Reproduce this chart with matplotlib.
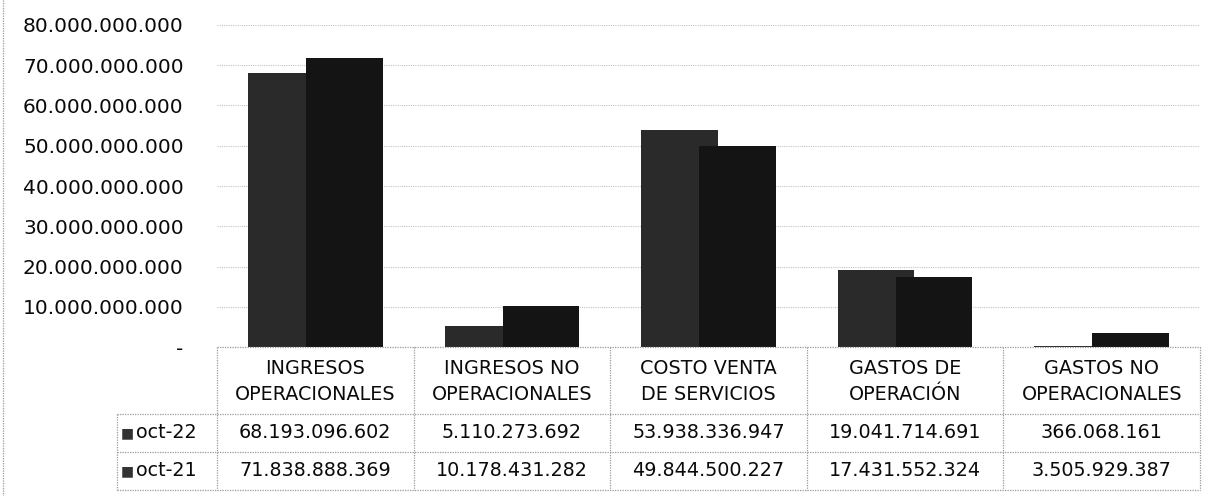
import numpy as np
import matplotlib
matplotlib.use("Agg")
import matplotlib.pyplot as plt
from matplotlib.ticker import FuncFormatter

# data
categories = ["INGRESOS\nOPERACIONALES", "INGRESOS NO\nOPERACIONALES",
              "COSTO VENTA\nDE SERVICIOS", "GASTOS DE\nOPERACIÓN",
              "GASTOS NO\nOPERACIONALES"]
series_names = ["oct-22", "oct-21"]
oct22 = [68193096602, 5110273692, 53938336947, 19041714691, 366068161]
oct21 = [71838888369, 10178431282, 49844500227, 17431552324, 3505929387]
yticks = [0, 10e9, 20e9, 30e9, 40e9, 50e9, 60e9, 70e9, 80e9]

W, H = 1221, 496
plt.rcParams['font.family'] = ['DejaVu Sans']


def fx(x):
    return x / W


def fy(y):
    return 1 - y / H


def fmt(v):
    if v == 0:
        return "-"
    return "{:,.0f}".format(v).replace(",", ".")


fig = plt.figure(figsize=(W / 100, H / 100), dpi=100)
left, right, top, bottom = 217, 1200, 25, 347
ax = fig.add_axes([fx(left), fy(bottom), fx(right - left), (bottom - top) / H])

x = np.arange(len(categories))
ax.bar(x - 0.1475, oct22, 0.39, color='#2a2a2a', zorder=2)
ax.bar(x + 0.1475, oct21, 0.39, color='#141414', zorder=3)

ax.set_xlim(-0.5, len(categories) - 0.5)
ax.set_ylim(0, 80e9)
ax.set_yticks(yticks)
ax.yaxis.set_major_formatter(FuncFormatter(lambda v, p: fmt(v)))
ax.tick_params(axis='y', length=0, pad=24, labelsize=14.5, labelcolor='#0a0a0a')
ax.set_xticks([])
for s in ax.spines.values():
    s.set_visible(False)
ax.grid(axis='y', color='#c4c4c4', linestyle=(0, (1, 1)), linewidth=0.8, zorder=0)

# dotted border line on the left side of the chart area
dot = dict(color='#9a9a9a', linestyle=(0, (1, 1)), linewidth=0.9)
fig.add_artist(plt.Line2D([fx(3), fx(3)], [fy(0), fy(496)], transform=fig.transFigure, **dot))

# data table under the plot
row_y = [347, 414, 452, 490]
col_w = (right - left) / len(categories)
col_x = [left + i * col_w for i in range(len(categories) + 1)]
lab_x = 117


def hline(x0, x1, y):
    fig.add_artist(plt.Line2D([fx(x0), fx(x1)], [fy(y), fy(y)], transform=fig.transFigure, **dot))


def vline(x, y0, y1):
    fig.add_artist(plt.Line2D([fx(x), fx(x)], [fy(y0), fy(y1)], transform=fig.transFigure, **dot))


hline(left, right, row_y[0])
for y in row_y[1:]:
    hline(lab_x, right, y)
for cx in col_x:
    vline(cx, row_y[0], row_y[3])
vline(lab_x, row_y[1], row_y[3])

for i, cat in enumerate(categories):
    cx = (col_x[i] + col_x[i + 1]) / 2
    fig.text(fx(cx), fy((row_y[0] + row_y[1]) / 2 + 1), cat, ha='center', va='center',
             fontsize=13.8, linespacing=1.5, color='#0a0a0a')

for r, (name, vals) in enumerate(zip(series_names, [oct22, oct21])):
    cy = (row_y[r + 1] + row_y[r + 2]) / 2
    fig.text(fx(lab_x + 4), fy(cy), "■", ha='left', va='center', fontsize=10, color='#333333')
    fig.text(fx(lab_x + 19), fy(cy), name, ha='left', va='center', fontsize=13.8, color='#0a0a0a')
    for i, v in enumerate(vals):
        cx = (col_x[i] + col_x[i + 1]) / 2
        fig.text(fx(cx), fy(cy), fmt(v), ha='center', va='center', fontsize=13.8, color='#0a0a0a')

fig.savefig("out.png", dpi=100)
